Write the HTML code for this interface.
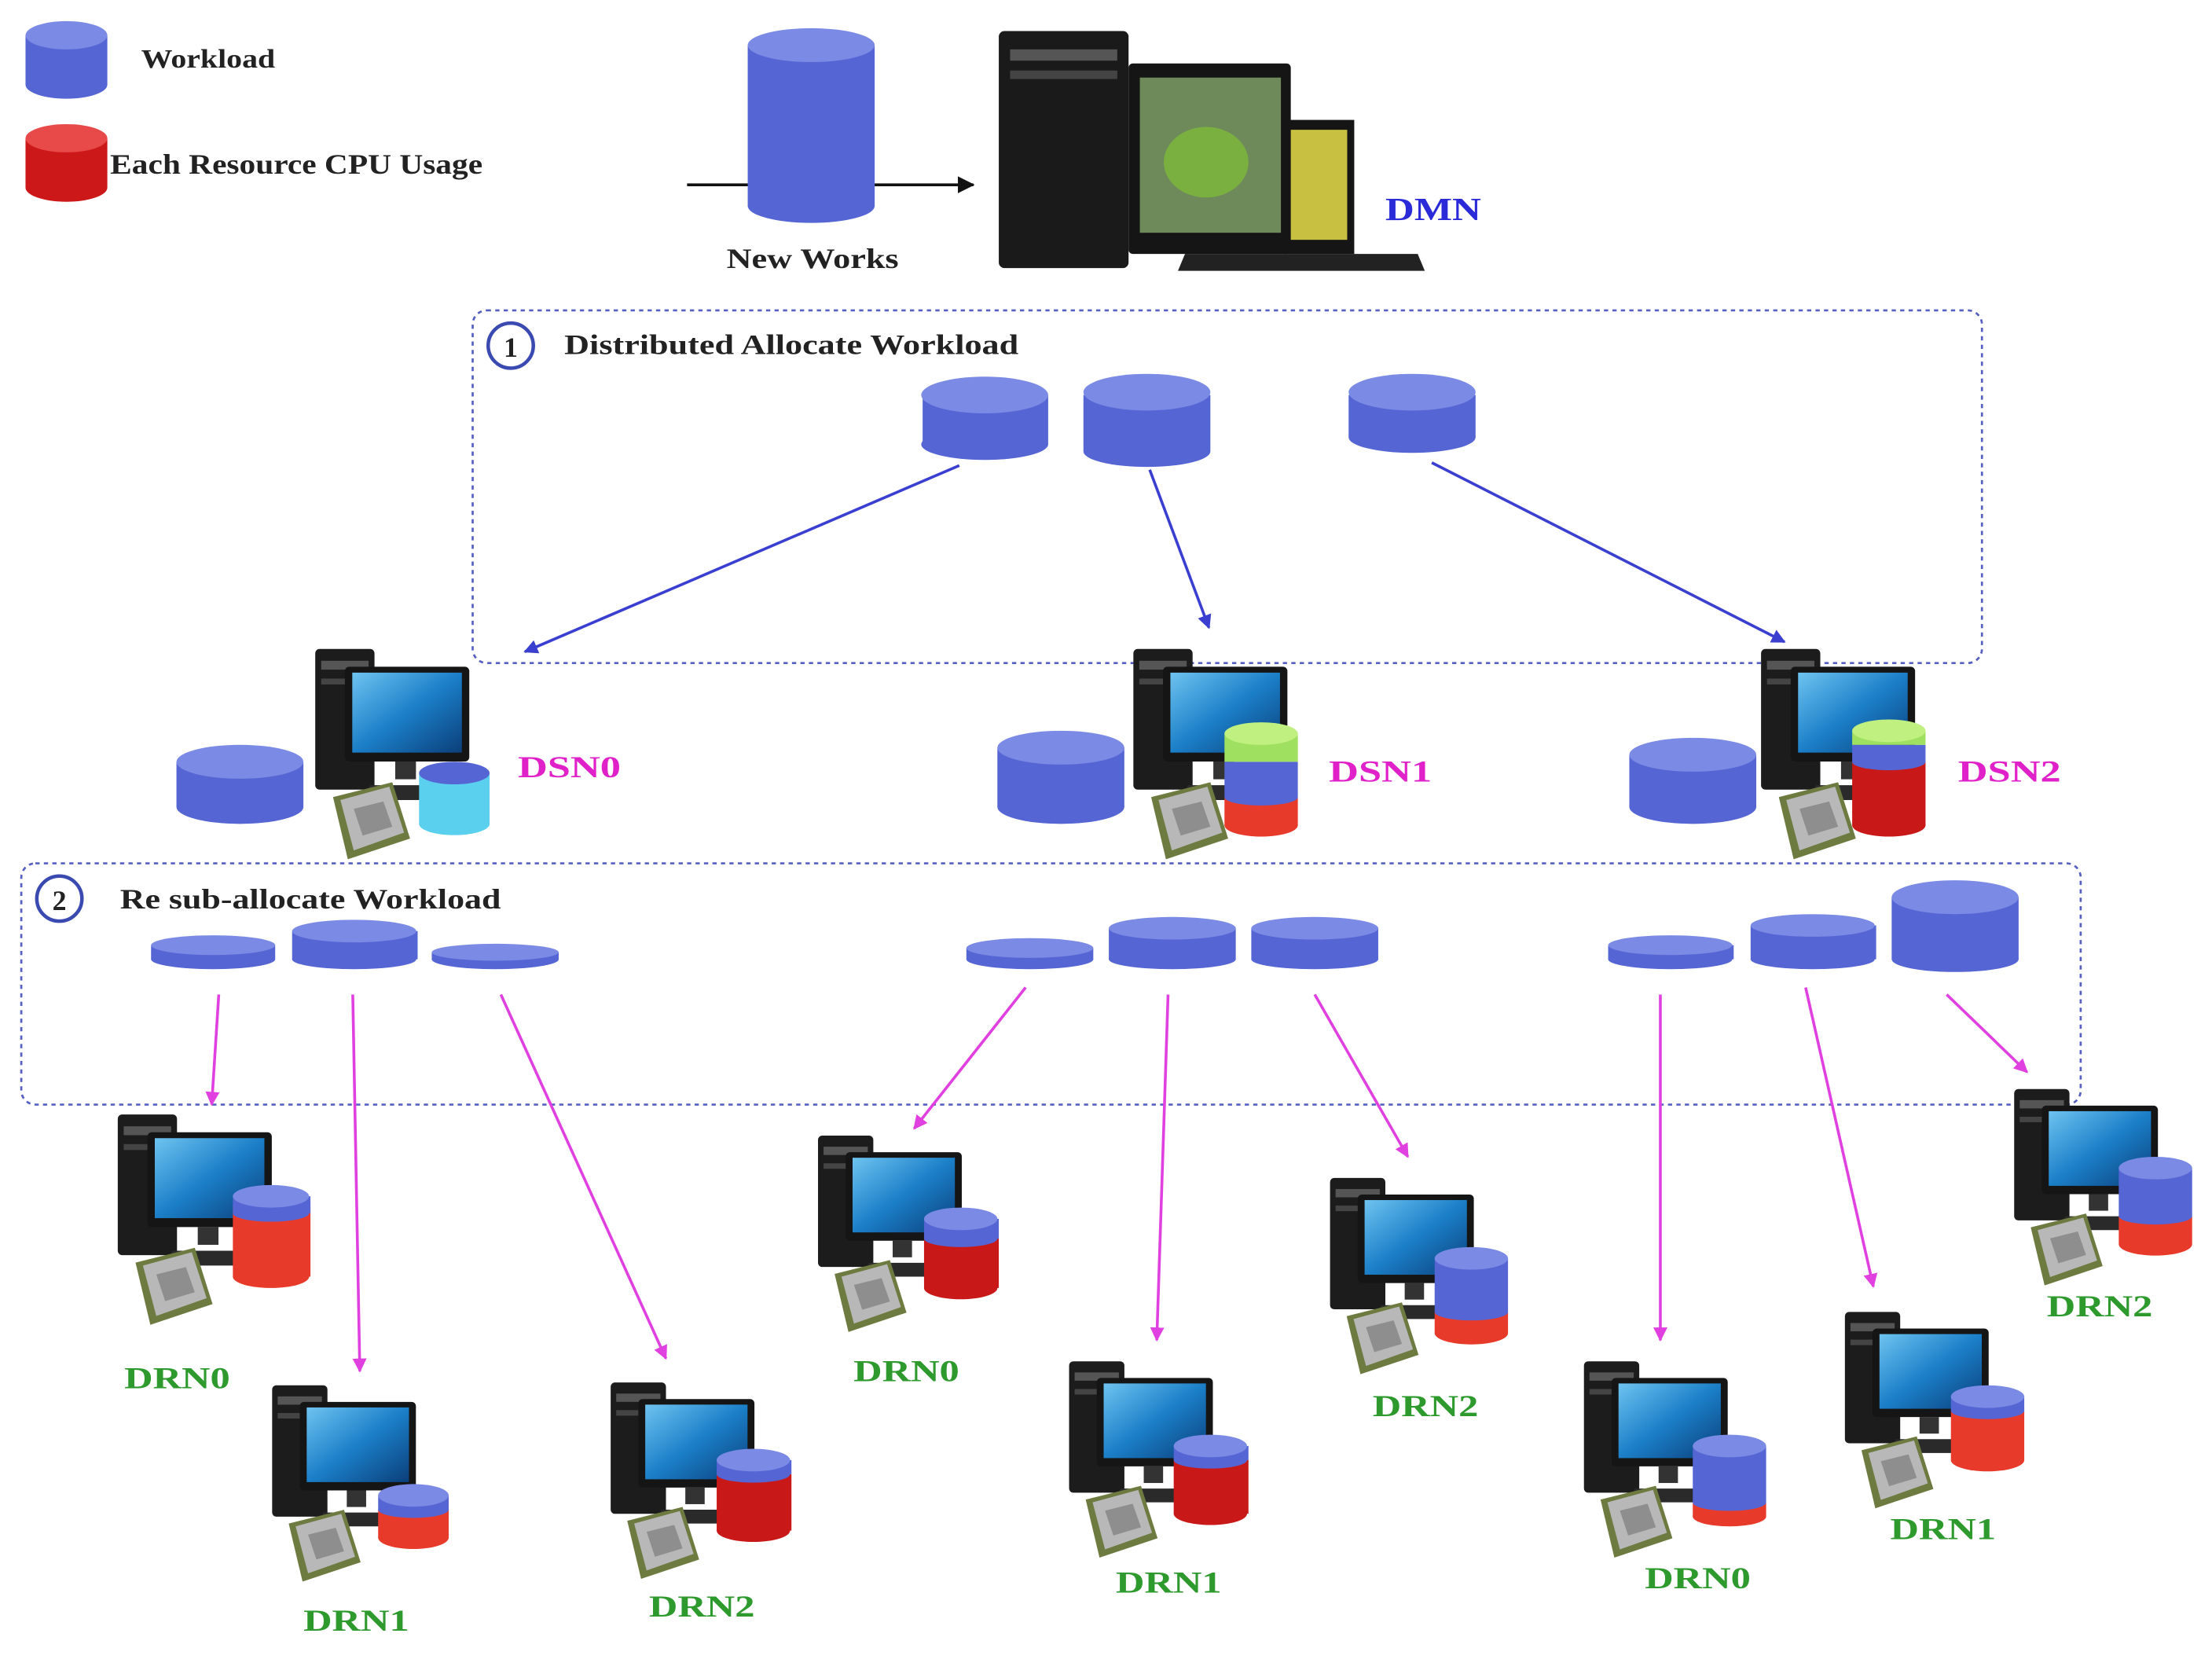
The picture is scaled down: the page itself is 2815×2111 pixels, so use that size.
<!DOCTYPE html>
<html><head><meta charset="utf-8"><style>
html,body{margin:0;padding:0;background:#fff}
svg{display:block}
text{font-family:"Liberation Serif",serif;font-weight:bold}
</style></head><body>
<svg width="2815" height="2111" viewBox="0 0 1568 1176" xmlns="http://www.w3.org/2000/svg">
<defs>
<linearGradient id="scr" x1="0" y1="0" x2="1" y2="1"><stop offset="0" stop-color="#6ec3f0"/><stop offset="0.5" stop-color="#1b7fc8"/><stop offset="1" stop-color="#0b3f7a"/></linearGradient>
<marker id="ab" markerWidth="10" markerHeight="10" refX="9" refY="5" orient="auto" markerUnits="userSpaceOnUse"><path d="M0,0 L10,5 L0,10 z" fill="#3a3fd0"/></marker>
<marker id="am" markerWidth="10" markerHeight="10" refX="9" refY="5" orient="auto" markerUnits="userSpaceOnUse"><path d="M0,0 L10,5 L0,10 z" fill="#e040e0"/></marker>
<marker id="ak" markerWidth="12" markerHeight="12" refX="11" refY="6" orient="auto" markerUnits="userSpaceOnUse"><path d="M0,0 L12,6 L0,12 z" fill="#111"/></marker>
<g id="pc">
<rect x="8" y="0" width="40" height="95" rx="3" fill="#1c1c1c"/>
<rect x="12" y="8" width="32" height="6" fill="#555"/>
<rect x="12" y="20" width="32" height="4" fill="#444"/>
<rect x="28" y="12" width="84" height="64" rx="3" fill="#151515"/>
<rect x="33" y="16" width="74" height="54" fill="url(#scr)"/>
<rect x="62" y="76" width="14" height="12" fill="#333"/>
<polygon points="45,92 110,92 118,102 40,102" fill="#2a2a2a"/>
<polygon points="20,100 60,90 72,128 30,142" fill="#6d7a40"/>
<polygon points="25,102 58,93 68,124 34,136" fill="#b8b8b8"/>
<polygon points="34,108 54,103 60,120 40,126" fill="#8e8e8e"/>
</g>
</defs>
<rect width="1568" height="1176" fill="#fff"/>

<!-- legend -->
<rect x="18" y="25" width="58" height="35" fill="#5566d4"/><ellipse cx="47" cy="60" rx="29" ry="10" fill="#5566d4"/><ellipse cx="47" cy="25" rx="29" ry="10" fill="#7b8ae4"/>
<rect x="18" y="98" width="58" height="35" fill="#cc1818"/><ellipse cx="47" cy="133" rx="29" ry="10" fill="#cc1818"/><ellipse cx="47" cy="98" rx="29" ry="10" fill="#e84a4a"/>
<text x="100" y="48" font-size="19" fill="#222" textLength="95" lengthAdjust="spacingAndGlyphs">Workload</text>
<text x="78" y="123" font-size="20" fill="#222" textLength="264" lengthAdjust="spacingAndGlyphs">Each Resource CPU Usage</text>

<!-- new works -->
<line x1="487" y1="131" x2="690" y2="131" stroke="#111" stroke-width="2" marker-end="url(#ak)"/>
<rect x="530" y="32" width="90" height="114" fill="#5566d4"/><ellipse cx="575" cy="146" rx="45" ry="12" fill="#5566d4"/><ellipse cx="575" cy="32" rx="45" ry="12" fill="#7b8ae4"/>
<text x="515" y="190" font-size="20" fill="#222" textLength="122" lengthAdjust="spacingAndGlyphs">New Works</text>

<!-- DMN -->
<rect x="708" y="22" width="92" height="168" rx="4" fill="#1a1a1a"/>
<rect x="716" y="35" width="76" height="8" fill="#555"/><rect x="716" y="50" width="76" height="6" fill="#444"/>
<rect x="800" y="45" width="115" height="135" rx="3" fill="#151515"/>
<rect x="808" y="55" width="100" height="110" fill="#6e8a5a"/>
<ellipse cx="855" cy="115" rx="30" ry="25" fill="#7ab040"/>
<rect x="910" y="85" width="50" height="95" fill="#151515"/><rect x="915" y="92" width="40" height="78" fill="#c8c040"/>
<polygon points="840,180 1005,180 1010,192 835,192" fill="#222"/>
<text x="982" y="156" font-size="23" fill="#2a2ad8" textLength="68" lengthAdjust="spacingAndGlyphs">DMN</text>

<!-- box1 -->
<rect x="335" y="220" width="1070" height="250" rx="10" fill="none" stroke="#5560c0" stroke-width="1.5" stroke-dasharray="3,3"/>
<circle cx="362" cy="245" r="16" fill="#fff" stroke="#3a4ab0" stroke-width="2.5"/>
<text x="362" y="253" font-size="20" text-anchor="middle" fill="#222">1</text>
<text x="400" y="251" font-size="20" fill="#222" textLength="322" lengthAdjust="spacingAndGlyphs">Distributed Allocate Workload</text>
<g fill="#5566d4">
<rect x="654" y="280" width="89" height="35"/><ellipse cx="698" cy="315" rx="45" ry="11"/>
<rect x="768" y="280" width="90" height="40"/><ellipse cx="813" cy="320" rx="45" ry="11"/>
<rect x="956" y="280" width="90" height="30"/><ellipse cx="1001" cy="310" rx="45" ry="11"/>
</g>
<g fill="#7b8ae4">
<ellipse cx="698" cy="280" rx="45" ry="13"/><ellipse cx="813" cy="278" rx="45" ry="13"/><ellipse cx="1001" cy="278" rx="45" ry="13"/>
</g>
<g stroke="#3a3fd0" stroke-width="2" marker-end="url(#ab)">
<line x1="680" y1="330" x2="372" y2="462"/>
<line x1="815" y1="333" x2="857" y2="445"/>
<line x1="1015" y1="328" x2="1265" y2="455"/>
</g>

<!-- DSNs -->
<use href="#pc" transform="translate(215,460) scale(1.05)"/>
<rect x="125" y="540" width="90" height="32" fill="#5566d4"/><ellipse cx="170" cy="572" rx="45" ry="12" fill="#5566d4"/><ellipse cx="170" cy="540" rx="45" ry="12" fill="#7b8ae4"/>
<rect x="297" y="548" width="50" height="36" fill="#5ad0ee"/><ellipse cx="322" cy="584" rx="25" ry="8" fill="#5ad0ee"/><ellipse cx="322" cy="548" rx="25" ry="8" fill="#5566d4"/>
<text x="367" y="551" font-size="22" fill="#e020c8" textLength="73" lengthAdjust="spacingAndGlyphs">DSN0</text>

<use href="#pc" transform="translate(795,460) scale(1.05)"/>
<rect x="707" y="530" width="90" height="42" fill="#5566d4"/><ellipse cx="752" cy="572" rx="45" ry="12" fill="#5566d4"/><ellipse cx="752" cy="530" rx="45" ry="12" fill="#7b8ae4"/>
<rect x="868" y="565" width="52" height="20" fill="#e83a2a"/><ellipse cx="894" cy="585" rx="26" ry="8" fill="#e83a2a"/>
<rect x="868" y="540" width="52" height="25" fill="#5566d4"/><ellipse cx="894" cy="565" rx="26" ry="6" fill="#5566d4"/>
<rect x="868" y="520" width="52" height="20" fill="#a0e060"/><ellipse cx="894" cy="520" rx="26" ry="8" fill="#c0f080"/>
<text x="942" y="554" font-size="22" fill="#e020c8" textLength="73" lengthAdjust="spacingAndGlyphs">DSN1</text>

<use href="#pc" transform="translate(1240,460) scale(1.05)"/>
<rect x="1155" y="535" width="90" height="37" fill="#5566d4"/><ellipse cx="1200" cy="572" rx="45" ry="12" fill="#5566d4"/><ellipse cx="1200" cy="535" rx="45" ry="12" fill="#7b8ae4"/>
<rect x="1313" y="540" width="52" height="45" fill="#c81818"/><ellipse cx="1339" cy="585" rx="26" ry="8" fill="#c81818"/>
<rect x="1313" y="528" width="52" height="12" fill="#5566d4"/><ellipse cx="1339" cy="540" rx="26" ry="6" fill="#5566d4"/>
<rect x="1313" y="518" width="52" height="10" fill="#a0e060"/><ellipse cx="1339" cy="518" rx="26" ry="8" fill="#c0f080"/>
<text x="1388" y="554" font-size="22" fill="#e020c8" textLength="73" lengthAdjust="spacingAndGlyphs">DSN2</text>

<!-- box2 -->
<rect x="15" y="612" width="1460" height="171" rx="10" fill="none" stroke="#5560c0" stroke-width="1.5" stroke-dasharray="3,3"/>
<circle cx="42" cy="637" r="16" fill="#fff" stroke="#3a4ab0" stroke-width="2.5"/>
<text x="42" y="645" font-size="20" text-anchor="middle" fill="#222">2</text>
<text x="85" y="644" font-size="20" fill="#222" textLength="270" lengthAdjust="spacingAndGlyphs">Re sub-allocate Workload</text>
<g fill="#5566d4">
<rect x="107" y="670" width="88" height="10"/><ellipse cx="151" cy="680" rx="44" ry="7"/>
<rect x="207" y="660" width="89" height="20"/><ellipse cx="251" cy="680" rx="44" ry="7"/>
<rect x="306" y="675" width="90" height="5"/><ellipse cx="351" cy="680" rx="45" ry="7"/>
<rect x="685" y="672" width="90" height="8"/><ellipse cx="730" cy="680" rx="45" ry="7"/>
<rect x="786" y="658" width="90" height="22"/><ellipse cx="831" cy="680" rx="45" ry="7"/>
<rect x="887" y="658" width="90" height="22"/><ellipse cx="932" cy="680" rx="45" ry="7"/>
<rect x="1140" y="670" width="89" height="10"/><ellipse cx="1184" cy="680" rx="44" ry="7"/>
<rect x="1241" y="656" width="89" height="24"/><ellipse cx="1285" cy="680" rx="44" ry="7"/>
<rect x="1341" y="636" width="90" height="44"/><ellipse cx="1386" cy="680" rx="45" ry="9"/>
</g>
<g fill="#7b8ae4">
<ellipse cx="151" cy="670" rx="44" ry="7"/><ellipse cx="251" cy="660" rx="44" ry="8"/><ellipse cx="351" cy="675" rx="45" ry="6"/>
<ellipse cx="730" cy="672" rx="45" ry="7"/><ellipse cx="831" cy="658" rx="45" ry="8"/><ellipse cx="932" cy="658" rx="45" ry="8"/>
<ellipse cx="1184" cy="670" rx="44" ry="7"/><ellipse cx="1285" cy="656" rx="44" ry="8"/><ellipse cx="1386" cy="636" rx="45" ry="12"/>
</g>
<g stroke="#e040e0" stroke-width="2" marker-end="url(#am)">
<line x1="155" y1="705" x2="150" y2="783"/>
<line x1="250" y1="705" x2="255" y2="972"/>
<line x1="355" y1="705" x2="472" y2="963"/>
<line x1="727" y1="700" x2="648" y2="800"/>
<line x1="828" y1="705" x2="820" y2="950"/>
<line x1="932" y1="705" x2="998" y2="820"/>
<line x1="1177" y1="705" x2="1177" y2="950"/>
<line x1="1280" y1="700" x2="1328" y2="912"/>
<line x1="1380" y1="705" x2="1437" y2="760"/>
</g>

<!-- DRN nodes -->
<g>
<use href="#pc" transform="translate(75,790) scale(1.05)"/>
<rect x="165" y="855" width="55" height="50" fill="#e83a2a"/><ellipse cx="192" cy="905" rx="27" ry="8" fill="#e83a2a"/>
<rect x="165" y="848" width="55" height="12" fill="#5566d4"/><ellipse cx="192" cy="860" rx="27" ry="6" fill="#5566d4"/><ellipse cx="192" cy="848" rx="27" ry="8" fill="#7b8ae4"/>
<text x="88" y="984" font-size="22" fill="#2e9a2e" textLength="75" lengthAdjust="spacingAndGlyphs">DRN0</text>

<use href="#pc" transform="translate(185,982) scale(0.98)"/>
<rect x="268" y="1070" width="50" height="20" fill="#e83a2a"/><ellipse cx="293" cy="1090" rx="25" ry="8" fill="#e83a2a"/>
<rect x="268" y="1060" width="50" height="10" fill="#5566d4"/><ellipse cx="293" cy="1070" rx="25" ry="6" fill="#5566d4"/><ellipse cx="293" cy="1060" rx="25" ry="8" fill="#7b8ae4"/>
<text x="215" y="1156" font-size="22" fill="#2e9a2e" textLength="75" lengthAdjust="spacingAndGlyphs">DRN1</text>

<use href="#pc" transform="translate(425,980) scale(0.98)"/>
<rect x="508" y="1045" width="53" height="40" fill="#c81818"/><ellipse cx="534" cy="1085" rx="26" ry="8" fill="#c81818"/>
<rect x="508" y="1035" width="53" height="10" fill="#5566d4"/><ellipse cx="534" cy="1045" rx="26" ry="6" fill="#5566d4"/><ellipse cx="534" cy="1035" rx="26" ry="8" fill="#7b8ae4"/>
<text x="460" y="1146" font-size="22" fill="#2e9a2e" textLength="75" lengthAdjust="spacingAndGlyphs">DRN2</text>

<use href="#pc" transform="translate(572,805) scale(0.98)"/>
<rect x="655" y="878" width="53" height="35" fill="#c81818"/><ellipse cx="681" cy="913" rx="26" ry="8" fill="#c81818"/>
<rect x="655" y="864" width="53" height="14" fill="#5566d4"/><ellipse cx="681" cy="878" rx="26" ry="6" fill="#5566d4"/><ellipse cx="681" cy="864" rx="26" ry="8" fill="#7b8ae4"/>
<text x="605" y="979" font-size="22" fill="#2e9a2e" textLength="75" lengthAdjust="spacingAndGlyphs">DRN0</text>

<use href="#pc" transform="translate(750,965) scale(0.98)"/>
<rect x="832" y="1035" width="53" height="38" fill="#c81818"/><ellipse cx="858" cy="1073" rx="26" ry="8" fill="#c81818"/>
<rect x="832" y="1025" width="53" height="10" fill="#5566d4"/><ellipse cx="858" cy="1035" rx="26" ry="6" fill="#5566d4"/><ellipse cx="858" cy="1025" rx="26" ry="8" fill="#7b8ae4"/>
<text x="791" y="1129" font-size="22" fill="#2e9a2e" textLength="75" lengthAdjust="spacingAndGlyphs">DRN1</text>

<use href="#pc" transform="translate(935,835) scale(0.98)"/>
<rect x="1017" y="930" width="52" height="15" fill="#e83a2a"/><ellipse cx="1043" cy="945" rx="26" ry="8" fill="#e83a2a"/>
<rect x="1017" y="892" width="52" height="38" fill="#5566d4"/><ellipse cx="1043" cy="930" rx="26" ry="6" fill="#5566d4"/><ellipse cx="1043" cy="892" rx="26" ry="8" fill="#7b8ae4"/>
<text x="973" y="1004" font-size="22" fill="#2e9a2e" textLength="75" lengthAdjust="spacingAndGlyphs">DRN2</text>

<use href="#pc" transform="translate(1115,965) scale(0.98)"/>
<rect x="1200" y="1065" width="52" height="10" fill="#e83a2a"/><ellipse cx="1226" cy="1075" rx="26" ry="7" fill="#e83a2a"/>
<rect x="1200" y="1025" width="52" height="40" fill="#5566d4"/><ellipse cx="1226" cy="1065" rx="26" ry="6" fill="#5566d4"/><ellipse cx="1226" cy="1025" rx="26" ry="8" fill="#7b8ae4"/>
<text x="1166" y="1126" font-size="22" fill="#2e9a2e" textLength="75" lengthAdjust="spacingAndGlyphs">DRN0</text>

<use href="#pc" transform="translate(1300,930) scale(0.98)"/>
<rect x="1383" y="1000" width="52" height="35" fill="#e83a2a"/><ellipse cx="1409" cy="1035" rx="26" ry="8" fill="#e83a2a"/>
<rect x="1383" y="990" width="52" height="10" fill="#5566d4"/><ellipse cx="1409" cy="1000" rx="26" ry="6" fill="#5566d4"/><ellipse cx="1409" cy="990" rx="26" ry="8" fill="#7b8ae4"/>
<text x="1340" y="1091" font-size="22" fill="#2e9a2e" textLength="75" lengthAdjust="spacingAndGlyphs">DRN1</text>

<use href="#pc" transform="translate(1420,772) scale(0.98)"/>
<rect x="1502" y="862" width="52" height="20" fill="#e83a2a"/><ellipse cx="1528" cy="882" rx="26" ry="8" fill="#e83a2a"/>
<rect x="1502" y="828" width="52" height="34" fill="#5566d4"/><ellipse cx="1528" cy="862" rx="26" ry="6" fill="#5566d4"/><ellipse cx="1528" cy="828" rx="26" ry="8" fill="#7b8ae4"/>
<text x="1451" y="933" font-size="22" fill="#2e9a2e" textLength="75" lengthAdjust="spacingAndGlyphs">DRN2</text>
</g>
</svg>
</body></html>
